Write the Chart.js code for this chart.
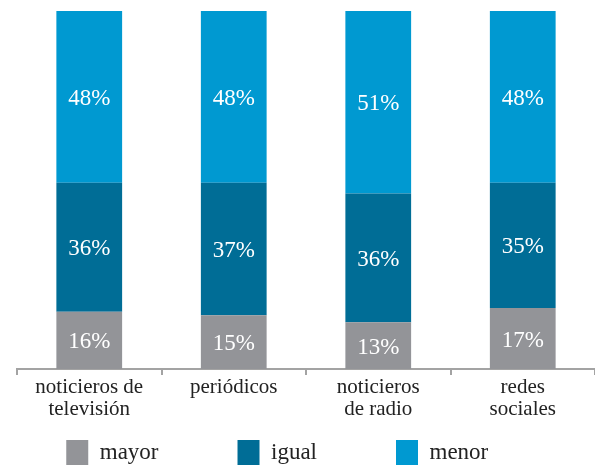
<!DOCTYPE html>
<html>
<head>
<meta charset="utf-8">
<script src="https://cdn.jsdelivr.net/npm/chart.js@4.4.1/dist/chart.umd.min.js"></script>
<style>
  html, body { margin: 0; padding: 0; background: #fff; }
  #wrap { width: 595px; height: 465px; }
</style>
</head>
<body>
<div id="wrap"><canvas id="chart"></canvas></div>
<script>
// categories and shares (%)
const categories = [
  ['noticieros de', 'televisión'],
  'periódicos',
  ['noticieros', 'de radio'],
  ['redes', 'sociales'],
];
const mayor = [16, 15, 13, 17];
const igual = [36, 37, 36, 35];
const menor = [48, 48, 51, 48];

const COLORS = {
  mayor: '#939498',
  igual: '#006d96',
  menor: '#0099d1',
  axis:  '#a3a3a3',
  text:  '#222222',
};
const FONT = "'Liberation Serif', 'Times New Roman', serif";

// trailing spaces widen each legend item so the entries sit far apart
const LEGEND_GAP = '\u2003\u2003\u2003';
const LEGEND_TAIL = '\u2003\u2003\u2002';

// white % labels centred inside each segment
const segmentLabels = {
  id: 'segmentLabels',
  afterDatasetsDraw(chart) {
    const ctx = chart.ctx;
    ctx.save();
    ctx.fillStyle = '#ffffff';
    ctx.font = `23px ${FONT}`;
    ctx.textAlign = 'center';
    ctx.textBaseline = 'middle';
    chart.data.datasets.forEach((ds, i) => {
      chart.getDatasetMeta(i).data.forEach((bar, j) => {
        const { x, y, base } = bar.getProps(['x', 'y', 'base'], true);
        ctx.fillText(ds.data[j] + '%', x, (y + base) / 2 + 2);
      });
    });
    ctx.restore();
  },
};

new Chart(document.getElementById('chart'), {
  type: 'bar',
  data: {
    labels: categories,
    datasets: [
      { label: 'mayor', data: mayor, backgroundColor: COLORS.mayor },
      { label: 'igual', data: igual, backgroundColor: COLORS.igual },
      { label: 'menor', data: menor, backgroundColor: COLORS.menor },
    ],
  },
  options: {
    responsive: true,
    maintainAspectRatio: false,
    animation: false,
    // legend runs off the bottom edge, as in the source image
    layout: { padding: { top: 11, left: 17, right: 0, bottom: -11 } },
    datasets: { bar: { barPercentage: 0.455, categoryPercentage: 1 } },
    plugins: {
      legend: {
        position: 'bottom',
        labels: {
          color: COLORS.text,
          font: { family: FONT, size: 23 },
          boxWidth: 22,
          boxHeight: 26,
          padding: 10,
          generateLabels(chart) {
            const items = Chart.defaults.plugins.legend.labels.generateLabels(chart);
            items.forEach((it, i) => {
              it.text += i < items.length - 1 ? LEGEND_GAP : LEGEND_TAIL;
            });
            return items;
          },
        },
      },
      tooltip: { enabled: false },
    },
    scales: {
      x: {
        stacked: true,
        afterFit(scale) { scale.height += 7; },
        border: { color: COLORS.axis, width: 2 },
        grid: {
          offset: true,
          drawOnChartArea: false,
          color: COLORS.axis,
          tickLength: 6,
          lineWidth: 2,
        },
        ticks: {
          color: COLORS.text,
          font: { family: FONT, size: 21, lineHeight: 1.05 },
          padding: 2,
          maxRotation: 0,
        },
      },
      y: {
        stacked: true,
        display: false,
        min: 0,
        max: 100,
      },
    },
  },
  plugins: [segmentLabels],
});
</script>
</body>
</html>
